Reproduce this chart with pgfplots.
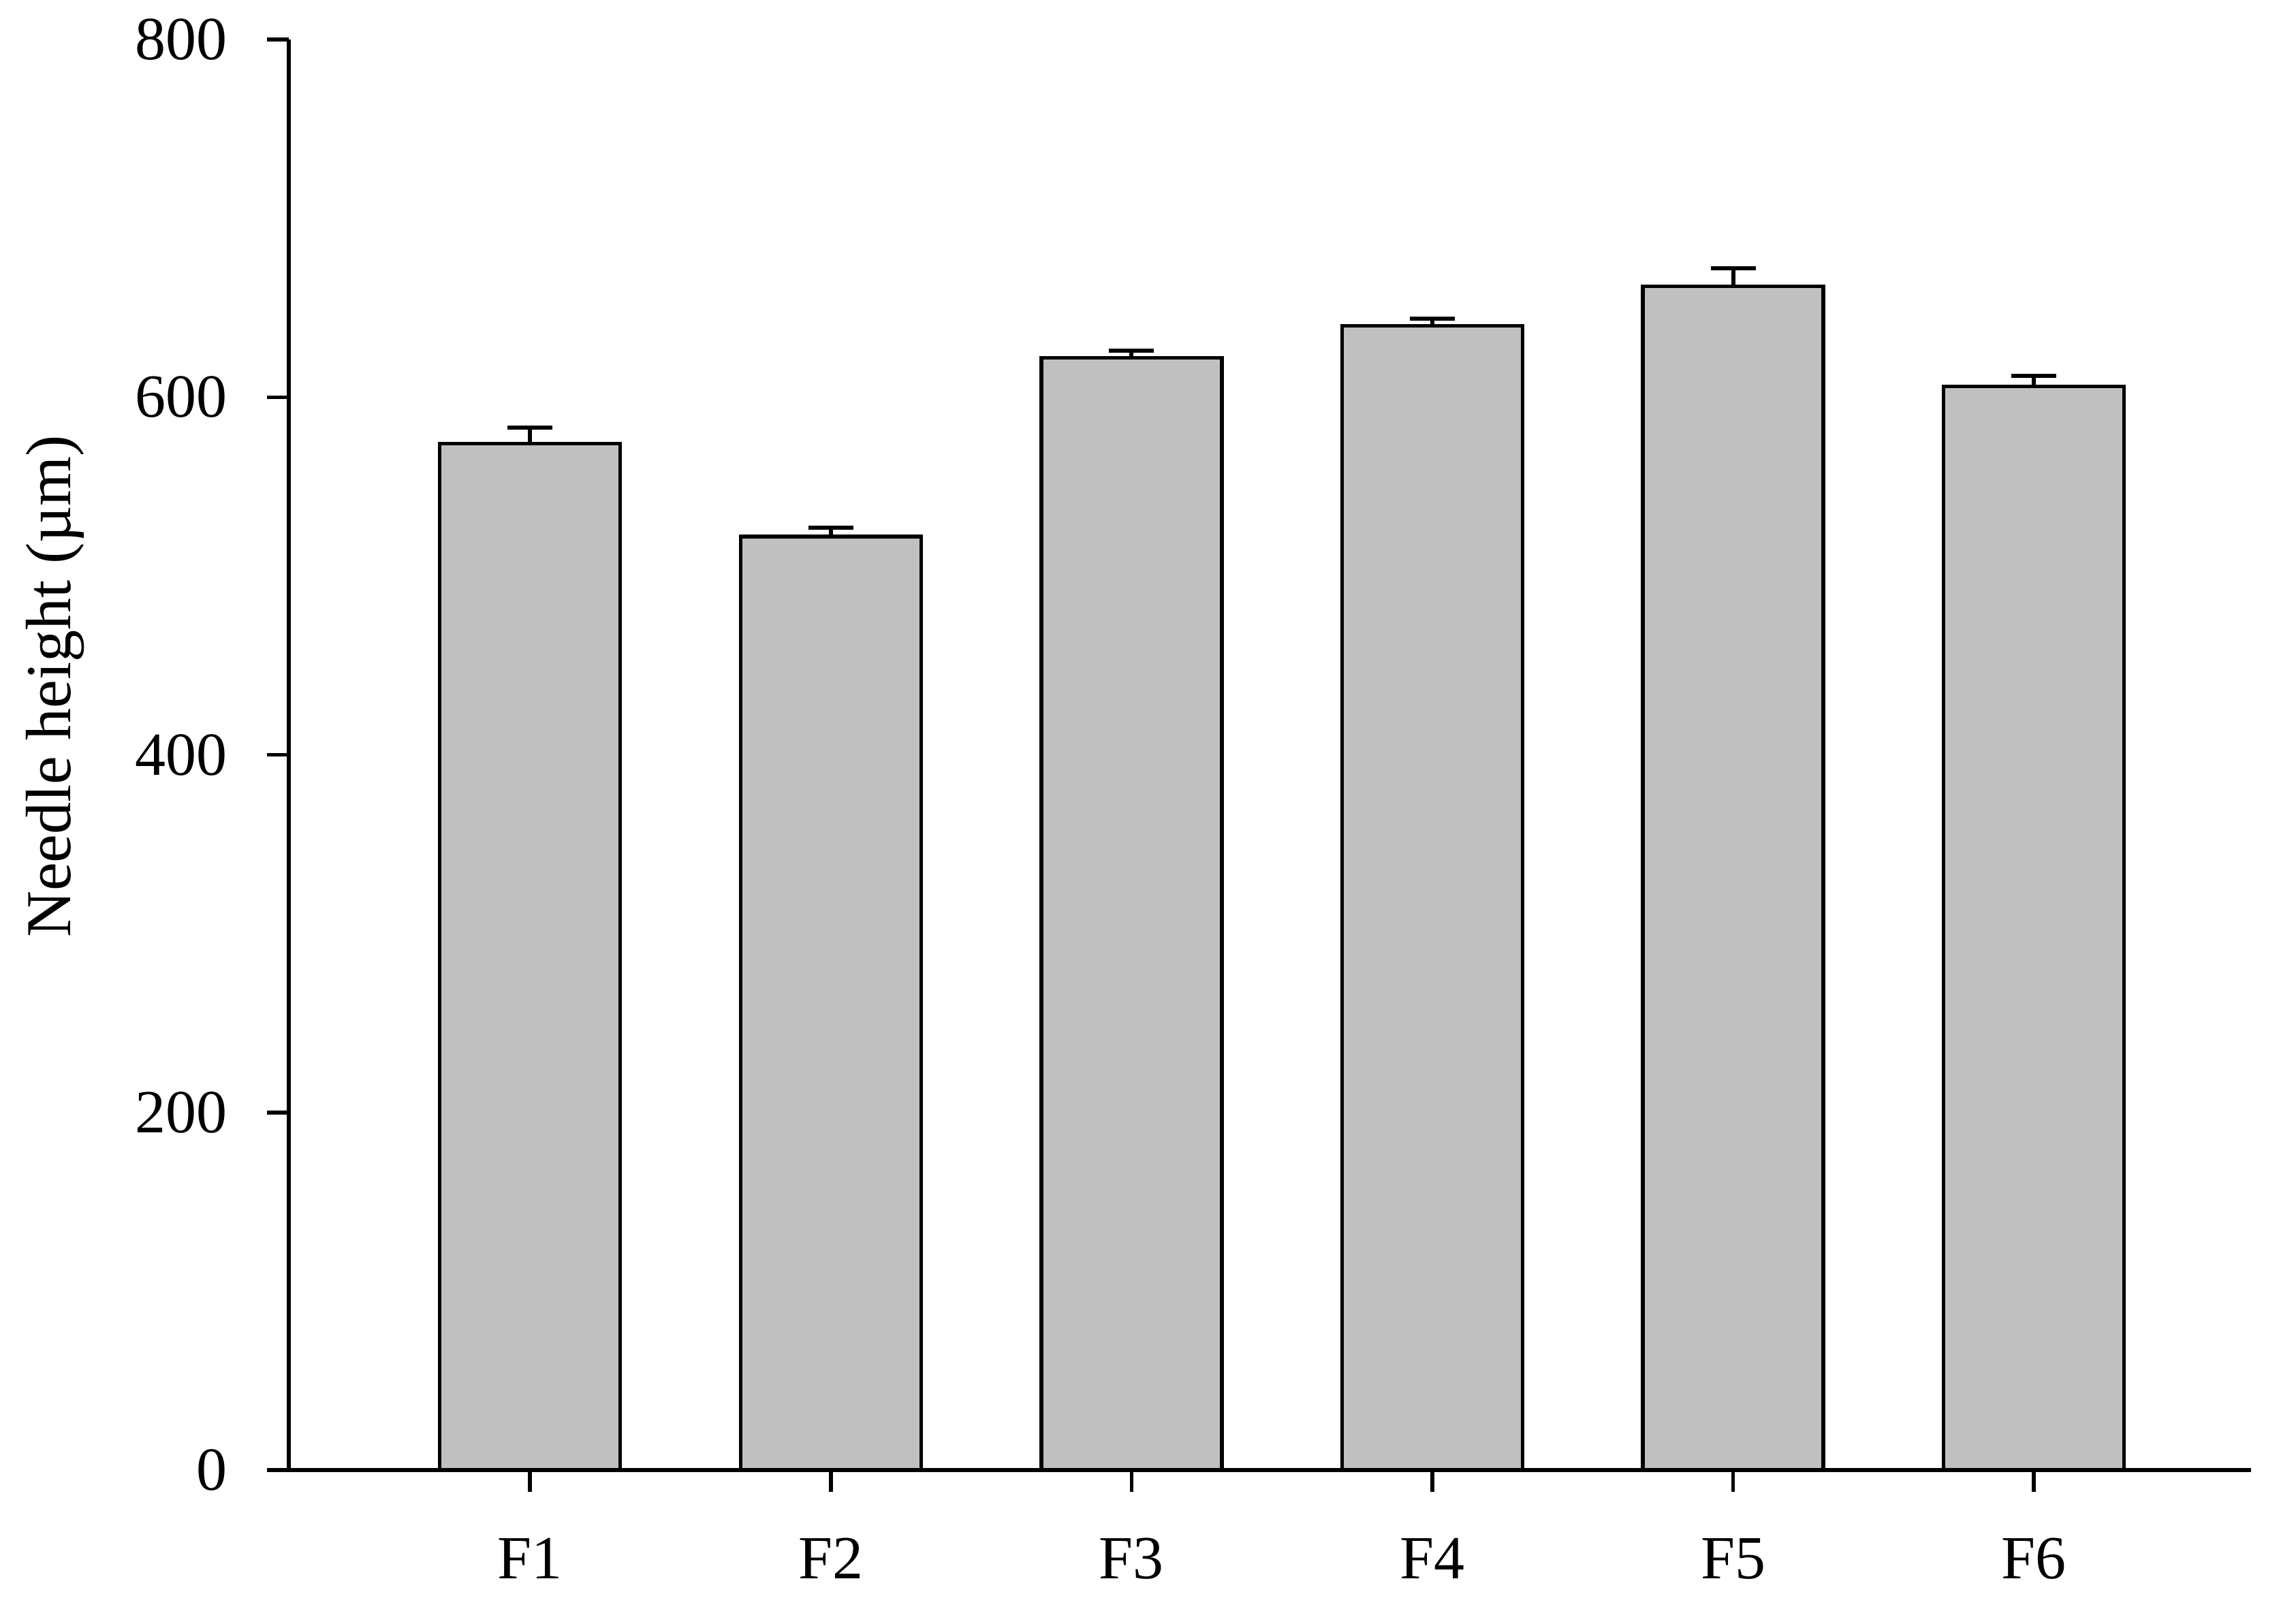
\documentclass[border=0pt]{standalone}
\usepackage{fontspec}
\setmainfont{Liberation Serif}
\usepackage{pgfplots}
\pgfplotsset{compat=1.18}
\definecolor{barfill}{RGB}{192,192,192}

\pgfplotstableread{
x  h    err
1  574  9
2  522  5
3  622  4
4  640  4
5  662  10
6  606  6
}\needle

\begin{document}
\begin{tikzpicture}
% page frame, same proportions as the reference
\useasboundingbox (-42.4pt,-20.6pt) rectangle (294.7pt,215.9pt);
\begin{axis}[
  at={(0pt,0pt)}, anchor=south west,
  scale only axis, width=288.1pt, height=210.1pt,
  xmin=0.198, xmax=6.722,
  ymin=0, ymax=800,
  axis x line=bottom, axis y line=left,
  axis line style={-, line width=0.55pt},
  every tick/.style={black, line width=0.55pt},
  tick align=outside, major tick length=3.2pt,
  xtick={1,2,3,4,5,6},
  xticklabels={F1,F2,F3,F4,F5,F6},
  ytick={0,200,400,600,800},
  /pgf/number format/assume math mode=true,
  tick label style={font=\fontsize{9}{11}\selectfont},
  xticklabel style={yshift=-3.3pt},
  yticklabel style={xshift=-2.3pt},
  ylabel={Needle height (µm)},
  ylabel style={font=\fontsize{9.4}{11}\selectfont, at={(axis description cs:-0.119,0.548)}, anchor=center},
]
\addplot[ybar, bar width=0.6, fill=barfill, draw=black, line width=0.55pt,
  error bars/.cd, y dir=plus, y explicit,
  error bar style={line width=0.6pt},
  error mark options={line width=0.6pt, mark size=3.3pt, rotate=90}]
  table[x=x, y=h, y error=err] {\needle};
\end{axis}
\end{tikzpicture}
\end{document}
